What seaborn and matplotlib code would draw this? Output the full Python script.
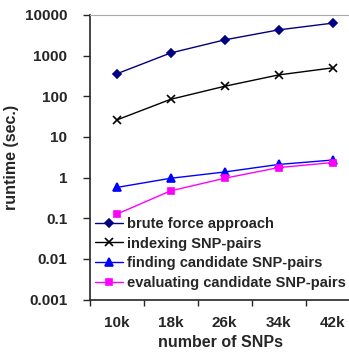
import numpy as np
import pandas as pd
import matplotlib
matplotlib.use("Agg")
import matplotlib.pyplot as plt
import seaborn as sns

snps = ["10k", "18k", "26k", "34k", "42k"]
brute_force = [355, 1160, 2440, 4300, 6300]
indexing = [26, 84, 176, 335, 500]
finding = [0.57, 0.96, 1.37, 2.1, 2.7]
evaluating = [0.125, 0.47, 0.96, 1.76, 2.34]

series = [
    ("brute force approach", brute_force, "#000080", "D", 4),
    ("indexing SNP-pairs", indexing, "black", "x", 6),
    ("finding candidate SNP-pairs", finding, "#0000ff", "^", 6),
    ("evaluating candidate SNP-pairs", evaluating, "#ff00ff", "s", 5),
]

sns.set_style("ticks")
plt.rcParams["font.family"] = ["Liberation Sans", "DejaVu Sans"]
plt.rcParams["font.weight"] = "bold"

fig = plt.figure(figsize=(3.49, 3.54), dpi=100)
ax = fig.add_axes([89.5 / 349, 1 - 299.5 / 354, 270 / 349, 284.5 / 354])

pos = np.arange(len(snps))
for name, vals, col, mk, ms in series:
    df = pd.DataFrame({"x": pos, "y": vals})
    sns.lineplot(data=df, x="x", y="y", ax=ax, color=col, marker=mk,
                 markersize=ms, markeredgecolor=col, markeredgewidth=1.2,
                 linewidth=1.0, label=name)

ax.set_yscale("log")
ax.set_ylim(0.001, 10000)
ax.set_yticks([0.001, 0.01, 0.1, 1, 10, 100, 1000, 10000])
ax.set_yticklabels(["0.001", "0.01", "0.1", "1", "10", "100", "1000", "10000"])
ax.yaxis.set_minor_locator(matplotlib.ticker.NullLocator())
ax.set_xlim(-0.5, 4.5)
ax.set_xticks(pos)
ax.set_xticklabels(snps)
ax.tick_params(axis="x", length=0, pad=12, labelsize=11)
ax.set_xticks(np.arange(-0.5, 4.6, 1), minor=True)
ax.tick_params(axis="x", which="minor", length=4, width=1, direction="out")
ax.tick_params(axis="y", length=5, width=1, pad=11, labelsize=11, direction="out")

for lab in ax.get_xticklabels() + ax.get_yticklabels():
    lab.set_fontweight("bold")

ax.spines["right"].set_visible(False)
ax.spines["top"].set_color("#aaaaaa")
ax.spines["left"].set_linewidth(1.2)
ax.spines["bottom"].set_linewidth(1.2)

ax.set_xlabel("number of SNPs", fontsize=11.5, fontweight="bold", labelpad=2)
ax.xaxis.set_label_coords(0.485, -0.125)
ax.set_ylabel("runtime (sec.)", fontsize=11.5, fontweight="bold", labelpad=4)

leg = ax.legend(loc="upper left", bbox_to_anchor=(0.02, 0.291), frameon=False,
                fontsize=10.5, handlelength=1.95, handletextpad=0.25,
                labelspacing=0.4, borderpad=0, borderaxespad=0)
for t in leg.get_texts():
    t.set_fontweight("bold")

fig.savefig("out.png", dpi=100)
